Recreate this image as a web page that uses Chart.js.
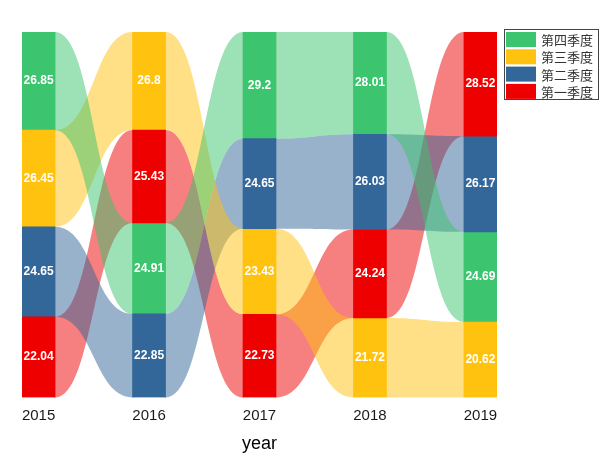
<!DOCTYPE html>
<html>
<head>
<meta charset="utf-8">
<script src="https://cdn.jsdelivr.net/npm/chart.js@4"></script>
<style>
  html, body { margin: 0; padding: 0; background: #fff; }
  #wrap { width: 609px; height: 474px; }
</style>
</head>
<body>
<div id="wrap"><canvas id="myChart"></canvas></div>
<script>
const years = [2015, 2016, 2017, 2018, 2019];
const quarters = ['第一季度', '第二季度', '第三季度', '第四季度'];
const q1 = [22.04, 25.43, 22.73, 24.24, 28.52];
const q2 = [24.65, 22.85, 24.65, 26.03, 26.17];
const q3 = [26.45, 26.8, 23.43, 21.72, 20.62];
const q4 = [26.85, 24.91, 29.2, 28.01, 24.69];
const colors = ['#EE0000', '#336699', '#FFC20E', '#3CC46E'];

const series = [q1, q2, q3, q4];

// stack each year's quarters with the smallest at the bottom
const ranges = series.map(() => []);
years.forEach((yr, i) => {
  const order = series.map((s, k) => k).sort((a, b) => series[a][i] - series[b][i]);
  let base = 0;
  order.forEach(k => {
    ranges[k][i] = [base, base + series[k][i]];
    base += series[k][i];
  });
});

function fade(hex, a) {
  const n = parseInt(hex.slice(1), 16);
  return 'rgba(' + (n >> 16) + ',' + ((n >> 8) & 255) + ',' + (n & 255) + ',' + a + ')';
}

const flows = {
  id: 'flows',
  beforeDatasetsDraw(chart) {
    const c = chart.ctx;
    c.save();
    chart.data.datasets.forEach((ds, k) => {
      const els = chart.getDatasetMeta(k).data;
      c.fillStyle = fade(colors[k], 0.5);
      for (let i = 0; i < els.length - 1; i++) {
        const a = els[i], b = els[i + 1];
        const x0 = a.x + a.width / 2, x1 = b.x - b.width / 2;
        const m = (x1 - x0) / 2;
        const aTop = Math.min(a.y, a.base), aBot = Math.max(a.y, a.base);
        const bTop = Math.min(b.y, b.base), bBot = Math.max(b.y, b.base);
        c.beginPath();
        c.moveTo(x0 - 1, aTop);
        c.lineTo(x0, aTop);
        c.bezierCurveTo(x0 + m, aTop, x1 - m, bTop, x1, bTop);
        c.lineTo(x1 + 1, bTop);
        c.lineTo(x1 + 1, bBot);
        c.lineTo(x1, bBot);
        c.bezierCurveTo(x1 - m, bBot, x0 + m, aBot, x0, aBot);
        c.lineTo(x0 - 1, aBot);
        c.closePath();
        c.fill();
      }
    });
    c.restore();
  },
  afterDatasetsDraw(chart) {
    const c = chart.ctx;
    c.save();
    c.fillStyle = '#fff';
    c.font = 'bold 12px "Liberation Sans", Arial, sans-serif';
    c.textAlign = 'center';
    c.textBaseline = 'middle';
    chart.data.datasets.forEach((ds, k) => {
      chart.getDatasetMeta(k).data.forEach((el, i) => {
        c.fillText(String(series[k][i]), el.x, (el.y + el.base) / 2);
      });
    });
    c.restore();
  },
  afterDraw(chart) {
    // legend box, top to bottom: 第四季度 ... 第一季度
    const c = chart.ctx;
    c.save();
    const lx = 504.5, ly = 29.5, lw = 94, lh = 70;
    c.fillStyle = '#fff';
    c.fillRect(lx, ly, lw, lh);
    c.strokeStyle = '#444';
    c.lineWidth = 1;
    c.strokeRect(lx, ly, lw, lh);
    c.font = '13px "Noto Sans CJK SC", sans-serif';
    c.textBaseline = 'middle';
    c.textAlign = 'left';
    for (let r = 0; r < 4; r++) {
      const k = 3 - r;
      const y = 32 + r * 17.3;
      c.fillStyle = colors[k];
      c.fillRect(506, y, 30, 15);
      c.fillStyle = '#333';
      c.fillText(quarters[k], 541, y + 8);
    }
    c.restore();
  }
};

new Chart(document.getElementById('myChart'), {
  type: 'bar',
  data: {
    datasets: quarters.map((q, k) => ({
      label: q,
      data: years.map((yr, i) => ({ x: yr, y: ranges[k][i] })),
      backgroundColor: colors[k],
      borderWidth: 0,
      barThickness: 33,
      grouped: false
    }))
  },
  options: {
    responsive: true,
    maintainAspectRatio: false,
    animation: false,
    layout: {
      padding: { left: 22, right: 112, top: 32, bottom: 19 }
    },
    plugins: {
      legend: { display: false },
      tooltip: { enabled: false }
    },
    scales: {
      x: {
        type: 'linear',
        offset: false,
        min: 2014.85,
        max: 2019.15,
        afterBuildTicks: scale => { scale.ticks = years.map(v => ({ value: v })); },
        grid: { display: false, drawTicks: false, offset: false },
        border: { display: false },
        ticks: {
          padding: 9,
          color: '#1a1a1a',
          font: { size: 15, family: '"Liberation Sans", Arial, sans-serif' },
          callback: v => String(v)
        },
        title: {
          display: true,
          text: 'year',
          color: '#000',
          font: { size: 18, family: '"Liberation Sans", Arial, sans-serif' },
          padding: { top: 0, bottom: 0 }
        }
      },
      y: {
        display: false,
        min: 0,
        max: 100
      }
    }
  },
  plugins: [flows]
});
</script>
</body>
</html>
